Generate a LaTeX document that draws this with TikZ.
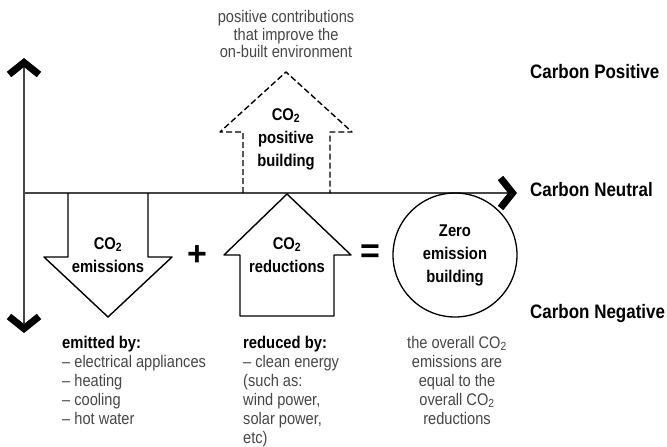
\documentclass[tikz,border=0pt]{standalone}
\usepackage{fontspec}
\setmainfont{Liberation Sans}
\newfontfamily\narrowfont[FakeStretch=0.87]{Liberation Sans}
\usetikzlibrary{arrows.meta,positioning,calc}
\definecolor{inkgray}{RGB}{70,70,70}
\tikzset{
  every picture/.style={x=1pt,y={(0pt,-1pt)}},
  chevron/.tip={Straight Barb[length=12pt,width=30pt,line width=7pt,color=black]},
  axisline/.style={draw=inkgray,line width=1.2pt},
  outline/.style={draw=black,line width=1.4pt,line join=round},
  dashline/.style={outline,dash pattern=on 6pt off 3pt},
  boldlbl/.style={font=\narrowfont\fontsize{17}{23}\selectfont\bfseries,align=center,inner sep=0pt},
  notetext/.style={font=\narrowfont\fontsize{16.8}{19}\selectfont,text=inkgray,inner sep=0pt},
  scalelbl/.style={font=\narrowfont\fontsize{19.5}{20}\selectfont\bfseries,anchor=west,inner sep=0pt},
  signlbl/.style={font=\fontsize{34}{34}\selectfont\bfseries,inner sep=0pt},
}

\begin{document}
\begin{tikzpicture}
  \useasboundingbox (0,0) rectangle (667,447);
  \coordinate (vtop) at (24,58);
  \coordinate (vbot) at (24,333);
  \coordinate (hstart) at (24,193);
  \coordinate (hend) at (517,193);
  \draw[axisline,chevron-chevron] (vtop) -- (vbot);
  \draw[axisline,-chevron] (hstart) -- (hend);

  \node[scalelbl] (cpos) at (530,72) {Carbon Positive};
  \node[scalelbl] (cneu) at (530,190) {Carbon Neutral};
  \node[scalelbl] (cneg) at (530,313) {Carbon Negative};

  \draw[outline] (68,193) -- (68,257) -- (44,257) -- (108,317) -- (172,257) -- (148,257) -- (148,193);
  \node[boldlbl] (emis) at (108,255) {CO\textsubscript{2}\\emissions};
  \node[signlbl] (plus) at (197,256) {+};

  \draw[outline] (240,316) -- (240,255) -- (224,255) -- (287,194) -- (351,255) -- (334,255) -- (334,316) -- cycle;
  \node[boldlbl] (redu) at (287,255) {CO\textsubscript{2}\\reductions};
  \node[signlbl] (equal) at (370,254) {=};

  \node[circle,draw,line width=1.3pt,minimum size=124pt,boldlbl] (zero) at (455,255) {Zero\\emission\\building};

  \draw[dashline] (243,193) -- (243,132) -- (220,132) -- (286,72) -- (352,132) -- (330,132) -- (330,193);
  \node[boldlbl] (posb) at (286,139) {CO\textsubscript{2}\\positive\\building};
  \node[notetext,align=center,font=\narrowfont\fontsize{16.8}{17.5}\selectfont] (contrib) at (286,34)
    {positive contributions\\that improve the\\on-built environment};

  \node[notetext,align=left,anchor=north west] (emitnote) at (62,336)
    {\textcolor{black}{\bfseries\fontsize{17}{19}\selectfont emitted by:}\\– electrical appliances\\– heating\\– cooling\\– hot water};
  \node[notetext,align=left,anchor=north west] (redunote) at (243,336)
    {\textcolor{black}{\bfseries\fontsize{17}{19}\selectfont reduced by:}\\– clean energy\\(such as:\\wind power,\\solar power,\\etc)};
  \node[notetext,align=center,anchor=north] (zeronote) at (457,336)
    {the overall CO\textsubscript{2}\\emissions are\\equal to the\\overall CO\textsubscript{2}\\reductions};
\end{tikzpicture}
\end{document}
